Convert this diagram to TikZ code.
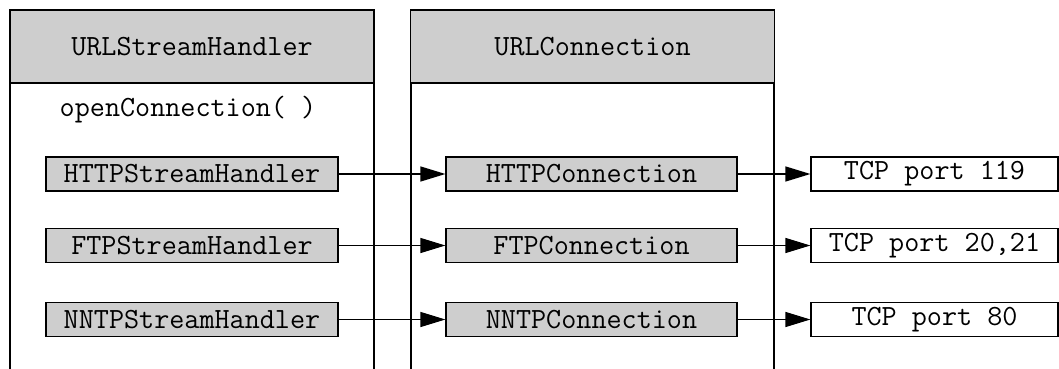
\documentclass[tikz,border=0pt]{standalone}
\usetikzlibrary{arrows.meta}
\definecolor{boxgray}{RGB}{206,206,206}
\tikzset{
  lbl/.style={font=\fontsize{29.3}{34}\selectfont\ttfamily, text=black},
  classhead/.style={lbl, draw=black, line width=1.2pt, fill=boxgray, minimum width=364pt, minimum height=73pt, inner sep=0pt},
  impl/.style={lbl, draw=black, line width=1.2pt, fill=boxgray, minimum width=291pt, minimum height=34pt, inner sep=0pt},
  port/.style={lbl, draw=black, line width=1.2pt, fill=white, minimum width=247pt, minimum height=34pt, inner sep=0pt},
  wall/.style={draw=black, line width=1.2pt},
  link/.style={draw=black, line width=1.2pt, -{Triangle[length=25pt,width=15pt]}}
}
\begin{document}
\begin{tikzpicture}[x=1pt,y=-1pt]
  \useasboundingbox (0,0) rectangle (1059,369);

  % class columns, open at the bottom
  \draw[wall] (10,369) -- (10,10) -- (374,10) -- (374,369);
  \draw[wall] (411,369) -- (411,10) -- (774,10) -- (774,369);

  % column headers
  \node[classhead] (hdrA) at (192,46.5) {URLStreamHandler};
  \node[classhead] (hdrB) at (592.5,46.5) {URLConnection};

  \node[lbl] (open) at (188,110) {openConnection(~)};

  % stream handlers
  \node[impl, minimum width=292pt] (hA) at (192,174) {HTTPStreamHandler};
  \node[impl, minimum width=292pt] (hB) at (192,245.5) {FTPStreamHandler};
  \node[impl, minimum width=292pt] (hC) at (192,319.5) {NNTPStreamHandler};

  % connections
  \node[impl] (cA) at (591.5,174) {HTTPConnection};
  \node[impl] (cB) at (591.5,245.5) {FTPConnection};
  \node[impl] (cC) at (591.5,319.5) {NNTPConnection};

  % ports
  \node[port] (pA) at (934.5,174) {TCP port 119};
  \node[port] (pB) at (934.5,245.5) {TCP port 20,21};
  \node[port] (pC) at (934.5,319.5) {TCP port 80};

  \draw[link] (hA) -- (cA);
  \draw[link] (hB) -- (cB);
  \draw[link] (hC) -- (cC);
  \draw[link] (cA) -- (pA);
  \draw[link] (cB) -- (pB);
  \draw[link] (cC) -- (pC);
\end{tikzpicture}
\end{document}
